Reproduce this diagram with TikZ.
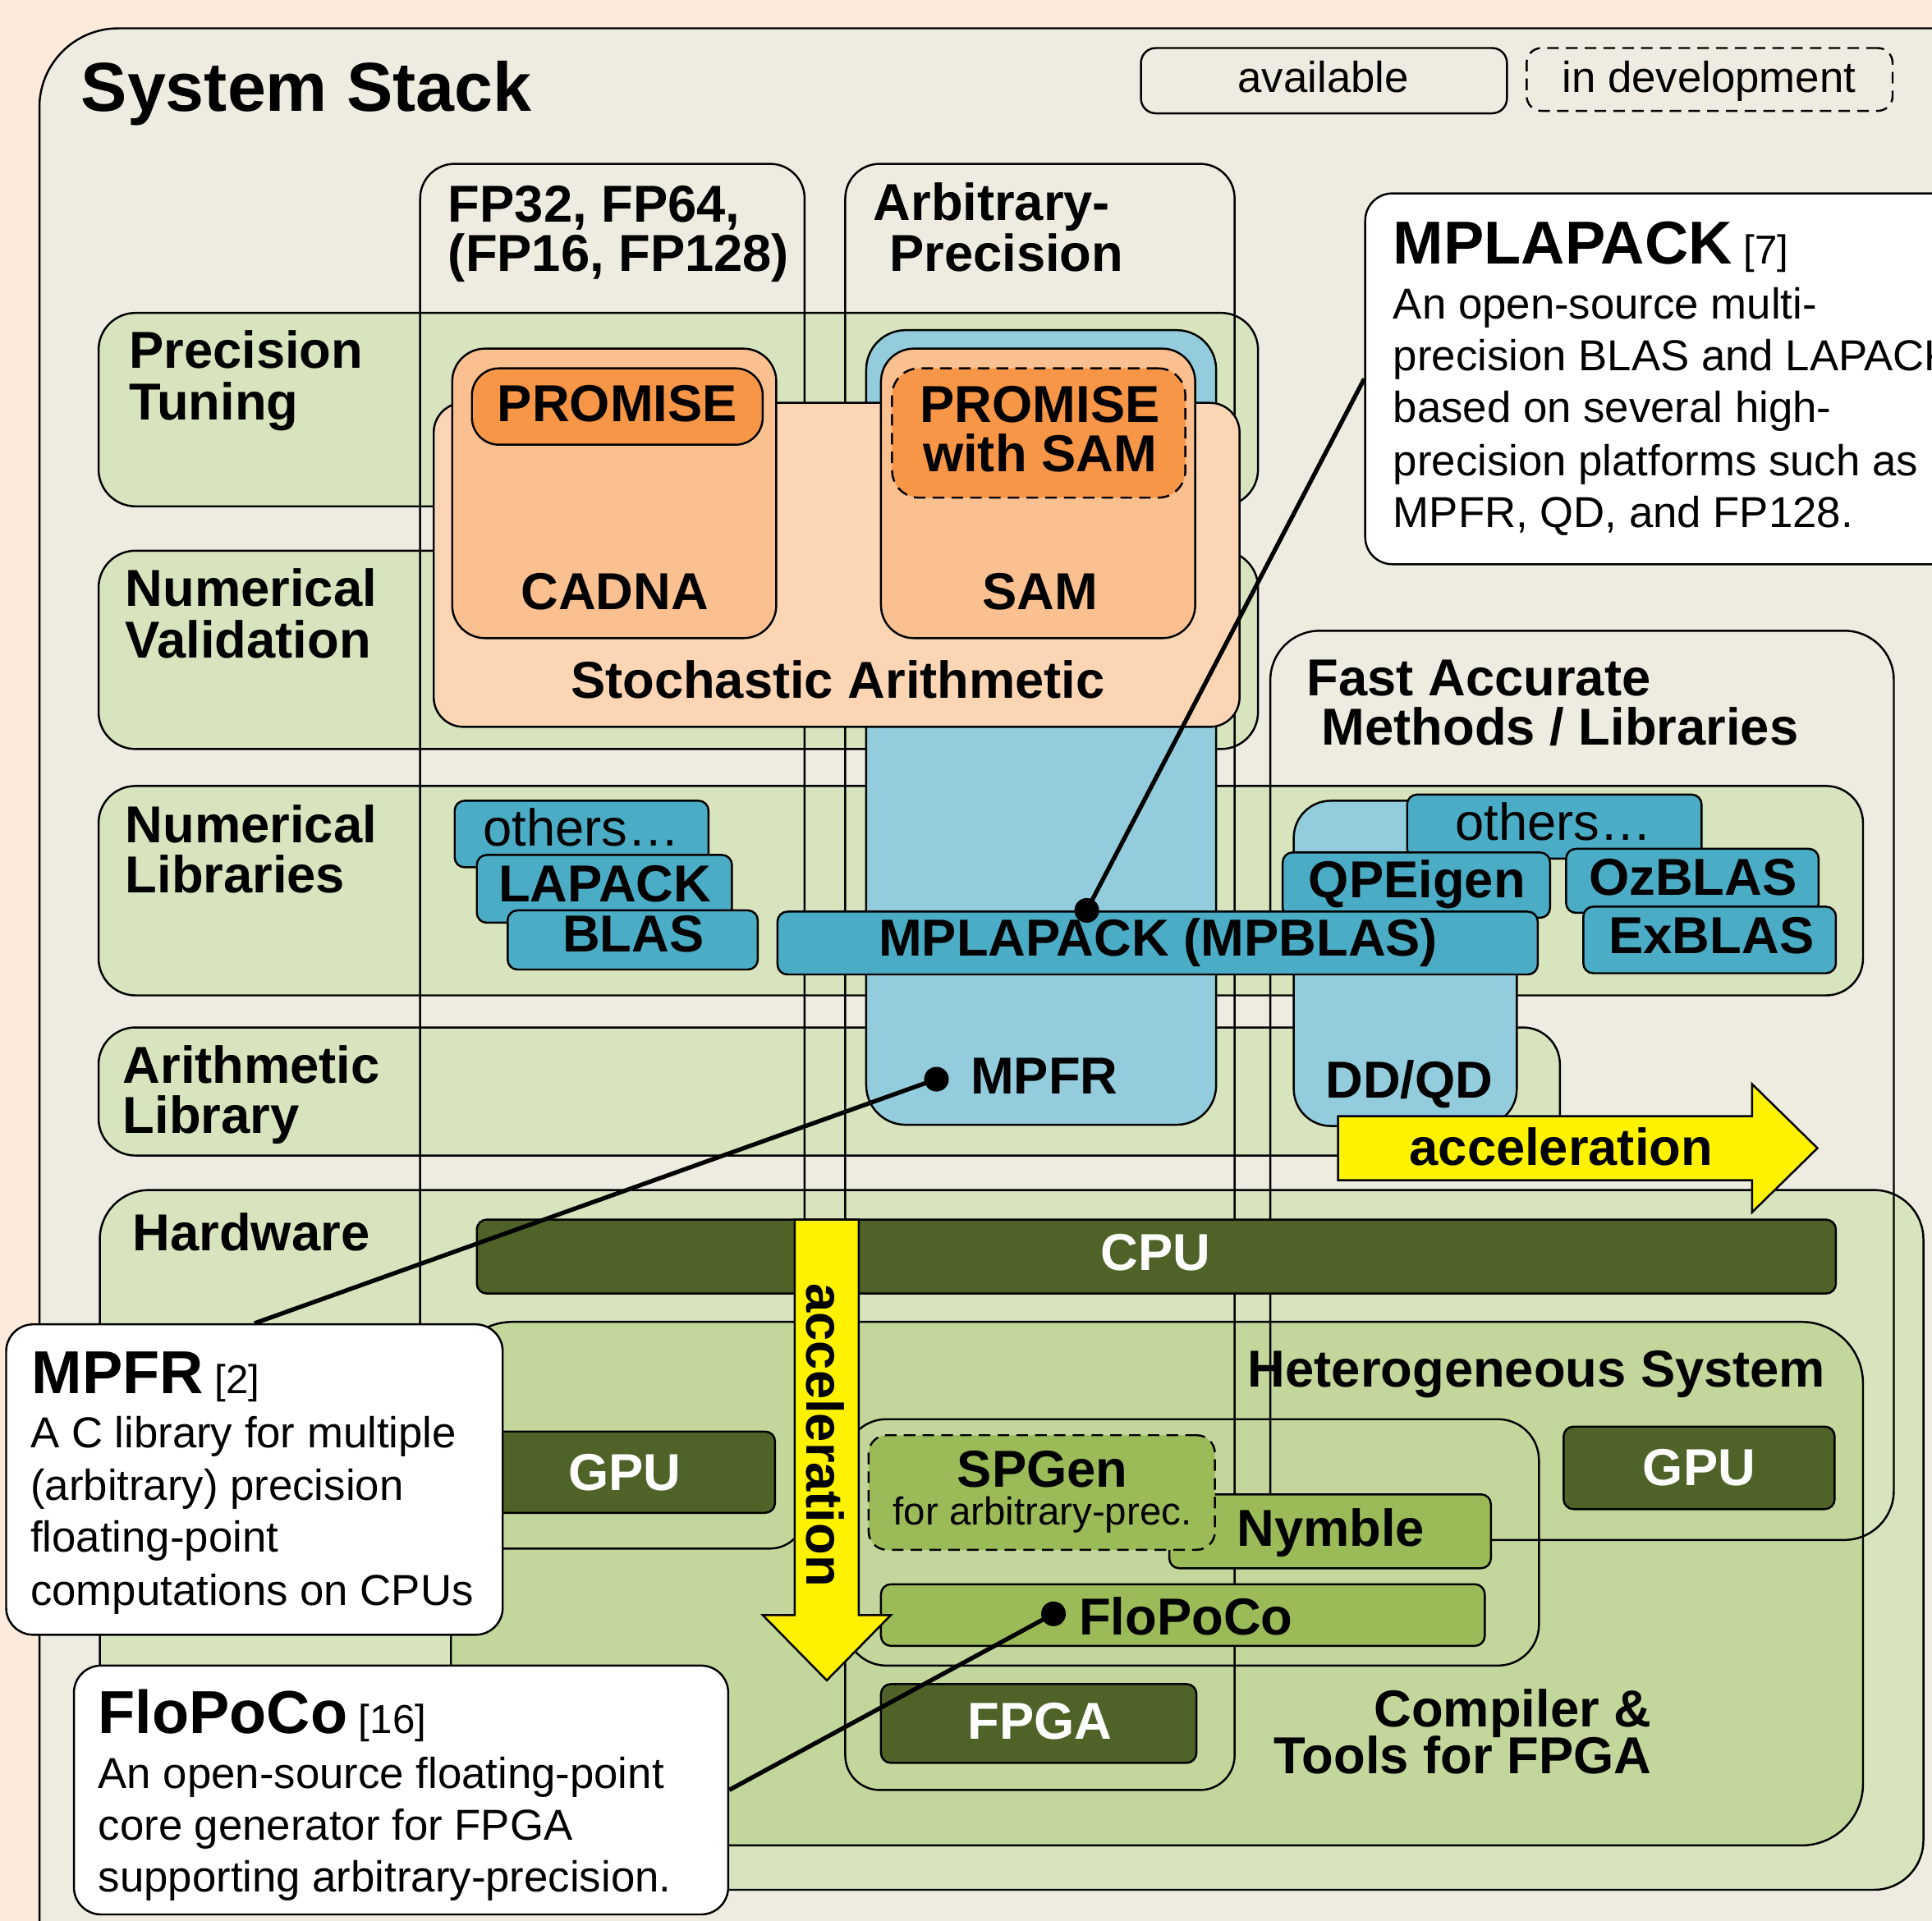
\documentclass[tikz,border=0pt]{standalone}
\usepackage{fontspec}
\setmainfont{Liberation Sans}
\usetikzlibrary{fit}
\definecolor{bgpeach}{HTML}{FDEADA}
\definecolor{outerc}{HTML}{EEECE1}
\definecolor{rowg}{HTML}{D7E4BD}
\definecolor{hetg}{HTML}{C3D69B}
\definecolor{midg}{HTML}{9BBB59}
\definecolor{darkg}{HTML}{4F6228}
\definecolor{aqua}{HTML}{4BACC6}
\definecolor{lblue}{HTML}{93CDDD}
\definecolor{peachl}{HTML}{FCD5B5}
\definecolor{peachm}{HTML}{FAC090}
\definecolor{orng}{HTML}{F79646}
\newcommand{\mybox}[6][]{\node[fit={(#3,#4) (#5,#6)}, inner sep=0pt, #1] (#2) {};}
\begin{document}
\begin{tikzpicture}[x=0.015cm, y=-0.015cm, line width=0.7pt,
  rowbox/.style={draw, fill=rowg, rounded corners=0.45cm},
  colbox/.style={draw, rounded corners=0.42cm},
  bluebig/.style={draw, fill=lblue, rounded corners=0.48cm},
  libbox/.style={draw, fill=aqua, rounded corners=0.12cm},
  hwbox/.style={draw, fill=darkg, rounded corners=0.12cm},
  toolbox/.style={draw, fill=midg, rounded corners=0.12cm},
  callout/.style={draw, fill=white, rounded corners=0.33cm},
  devel/.style={dash pattern=on 4pt off 2.5pt},
  lbl/.style={font=\fontsize{18}{18}\selectfont\bfseries, inner sep=0pt},
  wlbl/.style={font=\fontsize{18}{18}\selectfont\bfseries, text=white, inner sep=0pt},
  reglbl/.style={font=\fontsize{18}{18}\selectfont, inner sep=0pt},
  body/.style={font=\fontsize{15}{18}\selectfont, inner sep=0pt, anchor=base west},
  conn/.style={line width=1.5pt},
  dotc/.style={circle, fill=black, inner sep=0pt, minimum size=0.3cm}]
\useasboundingbox (0,0) rectangle (1568,1559);
\clip (0,0) rectangle (1568,1559);
\fill[bgpeach] (0,0) rectangle (1568,1559);
% outer box
\mybox[draw, fill=outerc, rounded corners=0.96cm]{outer}{32}{23}{1640}{1620}
% rows
\mybox[rowbox]{rowPT}{80}{254}{1021}{411}
\mybox[rowbox]{rowNV}{80}{447}{1021}{608}
\mybox[rowbox]{rowNL}{80}{638}{1512}{808}
\mybox[rowbox]{rowAL}{80}{834}{1266}{938}
\mybox[rowbox, rounded corners=0.6cm]{rowHW}{81}{966}{1561}{1534}
% heterogeneous system
\mybox[draw, fill=hetg, rounded corners=0.75cm]{hetero}{366}{1073}{1512}{1498}
\mybox[draw, fill=hetg, rounded corners=0.5cm]{fpgatools}{686}{1152}{1249}{1352}
% columns
\mybox[colbox]{colA}{341}{133}{653}{1257}
\mybox[colbox]{colB}{686}{133}{1002}{1453}
\mybox[colbox, rounded corners=0.6cm]{colC}{1031}{512}{1537}{1250}
% column and row labels
\node[lbl, anchor=base west] (hA1) at (363,180) {FP32, FP64,};
\node[lbl, anchor=base west] (hA2) at (363,220) {(FP16, FP128)};
\node[lbl, anchor=base west] (hB1) at (708,179) {Arbitrary-};
\node[lbl, anchor=base west] (hB2) at (721,220) {Precision};
\node[lbl, anchor=base west] (hC1) at (1060,565) {Fast Accurate};
\node[lbl, anchor=base west] (hC2) at (1072,605) {Methods / Libraries};
\node[lbl, anchor=base west] (rPT1) at (104,299) {Precision};
\node[lbl, anchor=base west] (rPT2) at (104,341) {Tuning};
\node[lbl, anchor=base west] (rNV1) at (101,492) {Numerical};
\node[lbl, anchor=base west] (rNV2) at (101,534) {Validation};
\node[lbl, anchor=base west] (rNL1) at (101,684) {Numerical};
\node[lbl, anchor=base west] (rNL2) at (101,725) {Libraries};
\node[lbl, anchor=base west] (rAL1) at (99,879) {Arithmetic};
\node[lbl, anchor=base west] (rAL2) at (99,920) {Library};
\node[lbl, anchor=base west] (rHW) at (107,1015) {Hardware};
\node[lbl, anchor=base west] (hetT) at (1012,1126) {Heterogeneous System};
\node[lbl, anchor=base east] (cmp1) at (1341,1402) {Compiler \&};
\node[lbl, anchor=base east] (cmp2) at (1341,1440) {Tools for FPGA};
% light blue regions
\mybox[bluebig]{arbblue}{703}{268}{987}{913}
\mybox[bluebig, rounded corners=0.45cm]{ddqd}{1050}{650}{1231}{914}
\node[lbl, anchor=base west] (mpfrT) at (787,888) {MPFR};
\node[lbl, anchor=base west] (ddqdT) at (1075,891) {DD/QD};
% stochastic arithmetic
\mybox[draw, fill=peachl, rounded corners=0.36cm]{stoch}{352}{327}{1006}{590}
\node[lbl, anchor=base] (stochT) at (680,567) {Stochastic Arithmetic};
\mybox[draw, fill=peachm, rounded corners=0.4cm]{cadna}{367}{283}{630}{518}
\mybox[draw, fill=peachm, rounded corners=0.4cm]{sam}{715}{283}{970}{518}
\node[lbl, anchor=base] (cadnaT) at (499,495) {CADNA};
\node[lbl, anchor=base] (samT) at (844,495) {SAM};
\mybox[draw, fill=orng, rounded corners=0.33cm]{prom}{383}{299}{619}{361}
\mybox[draw, fill=orng, rounded corners=0.33cm, devel]{promsam}{724}{299}{962}{404}
\node[lbl, anchor=base] (promT) at (501,342) {PROMISE};
\node[lbl, anchor=base] (promsamT1) at (844,343) {PROMISE};
\node[lbl, anchor=base] (promsamT2) at (844,383) {with SAM};
% numerical libraries
\mybox[libbox]{othL}{369}{650}{575}{704}
\node[reglbl, anchor=base] (othLT) at (472,687) {others…};
\mybox[libbox]{lapack}{387}{694}{594}{749}
\node[lbl, anchor=base] (lapackT) at (491,732) {LAPACK};
\mybox[libbox]{blas}{412}{739}{615}{787}
\node[lbl, anchor=base] (blasT) at (514,773) {BLAS};
\mybox[libbox]{othR}{1142}{645}{1381}{697}
\node[reglbl, anchor=base] (othRT) at (1261,682) {others…};
\mybox[libbox]{qpe}{1041}{692}{1258}{745}
\node[lbl, anchor=base] (qpeT) at (1150,729) {QPEigen};
\mybox[libbox]{ozb}{1271}{689}{1476}{741}
\node[lbl, anchor=base] (ozbT) at (1374,727) {OzBLAS};
\mybox[libbox]{exb}{1285}{736}{1490}{790}
\node[lbl, anchor=base] (exbT) at (1389,774) {ExBLAS};
\mybox[libbox]{mplapack}{631}{740}{1248}{791}
\node[lbl, anchor=base] (mplapackT) at (940,776) {MPLAPACK (MPBLAS)};
% hardware
\mybox[hwbox]{cpu}{387}{990}{1490}{1050}
\node[wlbl, anchor=base] (cpuT) at (938,1031) {CPU};
\mybox[hwbox]{gpuL}{390}{1162}{629}{1228}
\node[wlbl, anchor=base] (gpuLT) at (507,1210) {GPU};
\mybox[hwbox]{gpuR}{1269}{1158}{1489}{1225}
\node[wlbl, anchor=base] (gpuRT) at (1379,1206) {GPU};
\mybox[hwbox]{fpga}{715}{1367}{971}{1431}
\node[wlbl, anchor=base] (fpgaT) at (844,1412) {FPGA};
% FPGA tools
\mybox[toolbox]{nymble}{949}{1213}{1210}{1273}
\node[lbl, anchor=base] (nymbleT) at (1080,1255) {Nymble};
\mybox[toolbox, rounded corners=0.22cm, devel]{spgen}{705}{1165}{986}{1258}
\node[lbl, anchor=base] (spgenT) at (846,1207) {SPGen};
\node[font=\fontsize{13.5}{13.5}\selectfont, inner sep=0pt, anchor=base] (spgenS) at (846,1238) {for arbitrary-prec.};
\mybox[toolbox]{flopoco}{715}{1286}{1205}{1336}
\node[lbl, anchor=base west] (flopocoT) at (875,1327) {FloPoCo};
% acceleration arrows
\draw[fill=yellow] (1086,906) -- (1422,906) -- (1422,880) -- (1475,932) -- (1422,984) -- (1422,958) -- (1086,958) -- cycle;
\node[lbl, anchor=base] (accH) at (1267,946) {acceleration};
\draw[fill=yellow] (645,990) -- (697,990) -- (697,1311) -- (723,1311) -- (671,1364) -- (619,1311) -- (645,1311) -- cycle;
\node[lbl, rotate=-90] (accV) at (670,1165) {acceleration};
% legend
\mybox[draw, rounded corners=0.18cm]{legA}{926}{39}{1223}{92}
\node[font=\fontsize{15}{15}\selectfont, inner sep=0pt, anchor=base] (legAT) at (1074,75) {available};
\mybox[draw, rounded corners=0.18cm, devel]{legD}{1239}{39}{1536}{90}
\node[font=\fontsize{15}{15}\selectfont, inner sep=0pt, anchor=base] (legDT) at (1387,75) {in development};
% title
\node[font=\fontsize{24}{24}\selectfont\bfseries, inner sep=0pt, anchor=base west] (title) at (65,90) {System Stack};
% callouts
\mybox[callout]{mplC}{1108}{157}{1660}{458}
\node[inner sep=0pt, anchor=base west] (mplC0) at (1130,214) {\fontsize{21}{21}\selectfont\bfseries MPLAPACK\fontsize{14}{14}\selectfont\mdseries{} [7]};
\node[body] (mplC1) at (1130,259) {An open-source multi-};
\node[body] (mplC2) at (1130,301) {precision BLAS and LAPACK};
\node[body] (mplC3) at (1130,343) {based on several high-};
\node[body] (mplC4) at (1130,386) {precision platforms such as};
\node[body] (mplC5) at (1130,428) {MPFR, QD, and FP128.};
\mybox[callout]{mpfrC}{5}{1075}{408}{1327}
\node[inner sep=0pt, anchor=base west] (mpfrC0) at (25,1131) {\fontsize{21}{21}\selectfont\bfseries MPFR\fontsize{14}{14}\selectfont\mdseries{} [2]};
\node[body] (mpfrC1) at (24,1175) {A C library for multiple};
\node[body] (mpfrC2) at (24,1218) {(arbitrary) precision};
\node[body] (mpfrC3) at (24,1260) {floating-point};
\node[body] (mpfrC4) at (24,1303) {computations on CPUs};
\mybox[callout]{floC}{60}{1352}{591}{1554}
\node[inner sep=0pt, anchor=base west] (floC0) at (79,1407) {\fontsize{21}{21}\selectfont\bfseries FloPoCo\fontsize{14}{14}\selectfont\mdseries{} [16]};
\node[body] (floC1) at (79,1452) {An open-source floating-point};
\node[body] (floC2) at (79,1494) {core generator for FPGA};
\node[body] (floC3) at (79,1536) {supporting arbitrary-precision.};
% connectors
\node[dotc] (dotMPL) at (882,739) {};
\node[dotc] (dotMPFR) at (760,876) {};
\node[dotc] (dotFLO) at (855,1310) {};
\draw[conn] (dotMPL.center) -- (mplC.west);
\draw[conn] (dotMPFR.center) -- (mpfrC.north);
\draw[conn] (dotFLO.center) -- (floC.east);
\end{tikzpicture}
\end{document}
